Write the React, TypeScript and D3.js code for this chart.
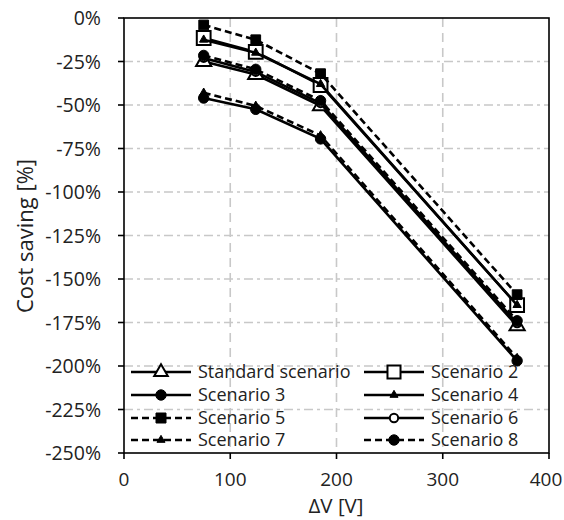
import React from "react";
import * as d3 from "d3";

const xValues = [75, 124, 185, 370];
const seriesNames = ["Standard scenario", "Scenario 2", "Scenario 3", "Scenario 4", "Scenario 5", "Scenario 6", "Scenario 7", "Scenario 8"];
const standard = [-25, -32.5, -50.5, -177];
const scenario2 = [-11.5, -19.5, -38.5, -165];
const scenario3 = [-46, -52.5, -69.5, -197];
const scenario4 = [-12.5, -20, -38, -165];
const scenario5 = [-4, -12.5, -32, -159];
const scenario6 = [-23, -31, -49, -175.5];
const scenario7 = [-43, -50.5, -67.5, -195.5];
const scenario8 = [-21.5, -29.5, -47.5, -174];
const xTicks = [0, 100, 200, 300, 400];
const yTicks = [0, -25, -50, -75, -100, -125, -150, -175, -200, -225, -250];

type Style = { dashed: boolean; shape: string; fill: string; size: number; lsize: number };
const styles: Style[] = [
  { dashed: false, shape: "triangle", fill: "white", size: 100, lsize: 80 },
  { dashed: false, shape: "square", fill: "white", size: 190, lsize: 170 },
  { dashed: false, shape: "circle", fill: "black", size: 85, lsize: 85 },
  { dashed: false, shape: "triangle", fill: "black", size: 30, lsize: 28 },
  { dashed: true, shape: "square", fill: "black", size: 95, lsize: 100 },
  { dashed: false, shape: "circle", fill: "white", size: 50, lsize: 55 },
  { dashed: true, shape: "triangle", fill: "black", size: 30, lsize: 28 },
  { dashed: true, shape: "circle", fill: "black", size: 85, lsize: 85 },
];
const seriesData = [standard, scenario2, scenario3, scenario4, scenario5, scenario6, scenario7, scenario8];

const FONT = "'Open Sans', sans-serif";

function symPath(shape: string, size: number) {
  const t = shape === "triangle" ? d3.symbolTriangle : shape === "square" ? d3.symbolSquare : d3.symbolCircle;
  return d3.symbol().type(t).size(size)() as string;
}

export default function App() {
  const L = 124, R = 549, T = 18, B = 453;
  const x = d3.scaleLinear().domain([0, 400]).range([L, R]);
  const y = d3.scaleLinear().domain([0, -250]).range([T, B]);
  const line = d3.line<[number, number]>().x((d) => x(d[0])).y((d) => y(d[1]));

  const legendCols = [131, 364];
  const legendRows = [372, 395, 418, 440];

  return (
    <svg width={564} height={520} style={{ position: "absolute", left: 0, top: 0, background: "white" }}>
      <rect x={0} y={0} width={564} height={520} fill="white" />
      {yTicks.filter((v) => v !== 0 && v !== -250).map((v) => (
        <line key={"gy" + v} x1={L} x2={R} y1={y(v)} y2={y(v)} stroke="#c8c8c8" strokeWidth={1.6} strokeDasharray="9,4,3,4" />
      ))}
      {xTicks.filter((v) => v !== 0 && v !== 400).map((v) => (
        <line key={"gx" + v} x1={x(v)} x2={x(v)} y1={T} y2={B} stroke="#c8c8c8" strokeWidth={1.6} strokeDasharray="9,6" />
      ))}
      <rect x={L} y={T} width={R - L} height={B - T} fill="none" stroke="black" strokeWidth={1.6} />
      {yTicks.map((v) => (
        <g key={"ty" + v}>
          <line x1={L - 6} x2={L} y1={y(v)} y2={y(v)} stroke="black" strokeWidth={1.6} />
          <text x={101} y={y(v)} dy="0.36em" textAnchor="end" fontFamily={FONT} fontSize={19.5} fill="#222">{v + "%"}</text>
        </g>
      ))}
      {xTicks.map((v) => (
        <g key={"tx" + v}>
          <line x1={x(v)} x2={x(v)} y1={B} y2={B + 6} stroke="black" strokeWidth={1.6} />
          <text x={x(v)} dx={v === 400 ? -3 : 0} y={485.5} textAnchor="middle" fontFamily={FONT} fontSize={19} fill="#222">{v}</text>
        </g>
      ))}
      <text x={336} y={513} textAnchor="middle" fontFamily={FONT} fontSize={20.5} fill="#222">ΔV [V]</text>
      <text transform={`translate(33,236) rotate(-90)`} textAnchor="middle" fontFamily={FONT} fontSize={22} fill="#222">Cost saving [%]</text>
      {seriesData.map((vals, i) => {
        const st = styles[i];
        const pts = vals.map((v, j) => [xValues[j], v] as [number, number]);
        return (
          <g key={"s" + i}>
            <path d={line(pts) as string} fill="none" stroke="black" strokeWidth={2.6} strokeDasharray={st.dashed ? "7,4" : undefined} />
            {pts.map((p, j) => (
              <path key={j} d={symPath(st.shape, st.size)} transform={`translate(${x(p[0])},${y(p[1])})`} fill={st.fill} stroke="black" strokeWidth={st.fill === "white" ? 2 : 1} />
            ))}
          </g>
        );
      })}
      {seriesNames.map((name, i) => {
        const st = styles[i];
        const cx = legendCols[i % 2];
        const cy = legendRows[Math.floor(i / 2)];
        return (
          <g key={"l" + i}>
            <line x1={cx} x2={cx + 60} y1={cy} y2={cy} stroke="black" strokeWidth={2.6} strokeDasharray={st.dashed ? "7,4" : undefined} />
            <path d={symPath(st.shape, st.lsize)} transform={`translate(${cx + 30},${cy})`} fill={st.fill} stroke="black" strokeWidth={st.fill === "white" ? 2 : 1} />
            <text x={cx + 67} y={cy} dy="0.36em" fontFamily={FONT} fontSize={18} fill="#222">{name}</text>
          </g>
        );
      })}
    </svg>
  );
}
